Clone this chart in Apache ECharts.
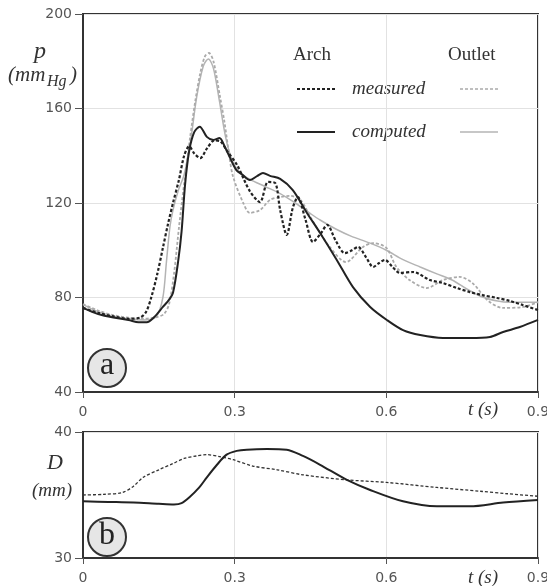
<!DOCTYPE html>
<html>
<head>
<meta charset="utf-8">
<script src="https://cdn.jsdelivr.net/npm/echarts@6/dist/echarts.min.js"></script>
<style>
  html, body { margin: 0; padding: 0; background: #fff; }
  #chart { width: 547px; height: 586px; }
</style>
</head>
<body>
<div id="chart"></div>
<script>
// ---- pressure (panel a), t in s, p in mmHg ----
var archMeasT = [0, 0.03, 0.06, 0.09, 0.113, 0.125, 0.135, 0.147, 0.158, 0.168, 0.178, 0.19, 0.2, 0.21, 0.22, 0.232, 0.245, 0.26, 0.272, 0.285, 0.305, 0.33, 0.35, 0.366, 0.38, 0.39, 0.403, 0.415, 0.425, 0.44, 0.455, 0.47, 0.483, 0.5, 0.518, 0.532, 0.544, 0.56, 0.574, 0.585, 0.597, 0.612, 0.627, 0.653, 0.686, 0.712, 0.74, 0.765, 0.79, 0.819, 0.845, 0.87, 0.9];
var archMeasP = [75.6, 73.5, 72, 71, 71.5, 74, 80, 90, 101, 111, 120, 130, 140, 144, 141, 139, 143, 146.5, 146, 142, 136, 125, 120.4, 128.9, 128.5, 117, 106.5, 118, 122.5, 113, 103.5, 107, 110.7, 104, 98.8, 100, 101.4, 97, 92.9, 94.5, 95.9, 93, 90.4, 90.8, 87.4, 86.1, 84, 82.3, 81, 79.8, 78.5, 76.8, 74.7];

var archCompT = [0, 0.03, 0.06, 0.09, 0.11, 0.126, 0.14, 0.158, 0.17, 0.178, 0.188, 0.195, 0.202, 0.21, 0.22, 0.231, 0.245, 0.258, 0.27, 0.28, 0.29, 0.303, 0.315, 0.33, 0.345, 0.356, 0.37, 0.39, 0.415, 0.443, 0.469, 0.502, 0.534, 0.568, 0.601, 0.633, 0.667, 0.712, 0.765, 0.805, 0.831, 0.864, 0.9];
var archCompP = [75.6, 73, 71.5, 70.5, 69.5, 69.5, 71.5, 76, 79, 82, 95, 108, 128, 142, 150, 152.3, 148, 146.7, 147.5, 144, 139.5, 134, 132, 129.7, 131.5, 132.7, 131.5, 130.2, 125.5, 115.8, 107.3, 95.9, 84.4, 76, 70.5, 66.2, 64.1, 62.9, 62.9, 63.3, 65.4, 67.5, 70.5];

var outMeasT = [0, 0.03, 0.06, 0.09, 0.12, 0.146, 0.16, 0.17, 0.18, 0.19, 0.2, 0.212, 0.222, 0.232, 0.241, 0.249, 0.258, 0.271, 0.28, 0.29, 0.297, 0.317, 0.33, 0.35, 0.37, 0.39, 0.41, 0.43, 0.45, 0.469, 0.488, 0.52, 0.554, 0.574, 0.6, 0.62, 0.646, 0.68, 0.712, 0.745, 0.771, 0.8, 0.83, 0.87, 0.9];
var outMeasP = [77.2, 74.5, 72.5, 71.5, 71, 71.7, 73, 77, 90, 110, 128, 148, 163, 175, 182, 183.5, 180, 165, 154, 139, 131, 120, 115.8, 117, 121.3, 122.5, 123, 121.3, 114, 107.3, 101.4, 95, 101.4, 103, 101, 92.9, 87.4, 84, 87.4, 88.7, 86, 78.9, 75.6, 76, 78];

var outCompT = [0, 0.03, 0.06, 0.09, 0.12, 0.145, 0.158, 0.165, 0.172, 0.178, 0.188, 0.2, 0.212, 0.225, 0.238, 0.248, 0.258, 0.27, 0.282, 0.295, 0.31, 0.33, 0.36, 0.39, 0.42, 0.45, 0.469, 0.5, 0.53, 0.568, 0.6, 0.633, 0.667, 0.7, 0.73, 0.76, 0.79, 0.82, 0.845, 0.9];
var outCompP = [77, 74, 72, 71, 70.5, 72, 80, 95, 110, 117, 125, 132, 145, 165, 178, 181, 177, 163, 148, 138, 133, 130, 127, 124, 120, 115.5, 112.8, 109, 106, 103, 100, 96, 92.9, 90, 87.4, 83.5, 80.2, 78.5, 78, 78];

// ---- diameter (panel b), D in mm ----
var dMeasT = [0, 0.04, 0.078, 0.1, 0.119, 0.15, 0.178, 0.2, 0.225, 0.245, 0.27, 0.297, 0.336, 0.384, 0.435, 0.522, 0.6, 0.7, 0.785, 0.84, 0.9];
var dMeasV = [35, 35.05, 35.2, 35.7, 36.4, 37, 37.5, 37.9, 38.1, 38.2, 38.05, 37.8, 37.3, 37.0, 36.6, 36.2, 36.0, 35.6, 35.3, 35.1, 34.9];

var dCompT = [0, 0.05, 0.1, 0.15, 0.18, 0.195, 0.21, 0.23, 0.245, 0.265, 0.284, 0.304, 0.324, 0.364, 0.403, 0.435, 0.469, 0.522, 0.568, 0.633, 0.7, 0.765, 0.831, 0.9];
var dCompV = [34.5, 34.45, 34.4, 34.3, 34.25, 34.35, 34.8, 35.6, 36.4, 37.4, 38.2, 38.5, 38.6, 38.65, 38.6, 38.1, 37.4, 36.2, 35.4, 34.5, 34.1, 34.1, 34.4, 34.6];

var dLabelTicks = [30, 40];

function zip(a, b) {
  var out = [];
  for (var i = 0; i < a.length; i++) out.push([a[i], b[i]]);
  return out;
}

var chart = echarts.init(document.getElementById('chart'));

var dark = '#222';
var light = '#aaa';
var tickFont = { fontFamily: 'DejaVu Sans', fontSize: 14, color: '#555' };
var serif = 'Liberation Serif';

function xAxisCfg(idx) {
  return {
    type: 'value', gridIndex: idx, min: 0, max: 0.9, interval: 0.3,
    axisLine: { show: true, lineStyle: { color: '#333', width: 2 } },
    axisTick: { show: true, length: 6, lineStyle: { color: '#555' } },
    axisLabel: Object.assign({ margin: 13, formatter: function (v) { return v === 0 ? '0' : v.toFixed(1); } }, tickFont),
    splitLine: { show: true, lineStyle: { color: '#e2e2e2', width: 1 } }
  };
}

var option = {
  animation: false,
  backgroundColor: '#fff',
  grid: [
    { left: 83, top: 14, width: 455, height: 378, show: true, borderColor: '#333', borderWidth: 2, containLabel: false, outerBoundsMode: 'none' },
    { left: 83, top: 432, width: 455, height: 126, show: true, borderColor: '#333', borderWidth: 2, containLabel: false, outerBoundsMode: 'none' }
  ],
  xAxis: [xAxisCfg(0), xAxisCfg(1)],
  yAxis: [
    {
      type: 'value', gridIndex: 0, min: 40, max: 200, interval: 40,
      axisLine: { show: true, lineStyle: { color: '#333', width: 2 } },
      axisTick: { show: true, length: 8, lineStyle: { color: '#555' } },
      axisLabel: Object.assign({ margin: 11 }, tickFont),
      splitLine: { show: true, lineStyle: { color: '#e2e2e2', width: 1 } }
    },
    {
      type: 'value', gridIndex: 1, min: 30, max: 40, interval: 5,
      axisLine: { show: true, lineStyle: { color: '#333', width: 2 } },
      axisTick: { show: true, length: 8, customValues: dLabelTicks, lineStyle: { color: '#555' } },
      axisLabel: Object.assign({ margin: 11, customValues: dLabelTicks }, tickFont),
      splitLine: { show: true, lineStyle: { color: '#e2e2e2', width: 1 } }
    }
  ],
  series: [
    { name: 'Outlet computed', type: 'line', xAxisIndex: 0, yAxisIndex: 0, data: zip(outCompT, outCompP),
      smooth: 0.3, showSymbol: false, lineStyle: { color: '#b4b4b4', width: 1.5 } },
    { name: 'Outlet measured', type: 'line', xAxisIndex: 0, yAxisIndex: 0, data: zip(outMeasT, outMeasP),
      smooth: 0.3, showSymbol: false, lineStyle: { color: light, width: 1.8, type: [3, 2] } },
    { name: 'Arch measured', type: 'line', xAxisIndex: 0, yAxisIndex: 0, data: zip(archMeasT, archMeasP),
      smooth: 0.3, showSymbol: false, lineStyle: { color: dark, width: 2.2, type: [3, 2] } },
    { name: 'Arch computed', type: 'line', xAxisIndex: 0, yAxisIndex: 0, data: zip(archCompT, archCompP),
      smooth: 0.3, showSymbol: false, lineStyle: { color: dark, width: 2 } },
    { name: 'D measured', type: 'line', xAxisIndex: 1, yAxisIndex: 1, data: zip(dMeasT, dMeasV),
      smooth: 0.3, showSymbol: false, lineStyle: { color: '#333', width: 1.3, type: [3, 2] } },
    { name: 'D computed', type: 'line', xAxisIndex: 1, yAxisIndex: 1, data: zip(dCompT, dCompV),
      smooth: 0.3, showSymbol: false, lineStyle: { color: dark, width: 2 } }
  ],
  graphic: [
    // y axis titles
    { type: 'text', left: 34, top: 40, style: { text: 'p', font: 'italic 24px ' + serif, fill: '#333' } },
    { type: 'text', left: 8, top: 65, style: { text: '(mm', font: 'italic 21px ' + serif, fill: '#333' } },
    { type: 'text', left: 47, top: 74, style: { text: 'Hg', font: 'italic 16px ' + serif, fill: '#333' } },
    { type: 'text', left: 70, top: 65, style: { text: ')', font: 'italic 21px ' + serif, fill: '#333' } },
    { type: 'text', left: 47, top: 452, style: { text: 'D', font: 'italic 22px ' + serif, fill: '#333' } },
    { type: 'text', left: 32, top: 481, style: { text: '(mm)', font: 'italic 19px ' + serif, fill: '#333' } },
    // x axis titles
    { type: 'text', left: 468, top: 400, style: { text: 't (s)', font: 'italic 19px ' + serif, fill: '#333' } },
    { type: 'text', left: 468, top: 568, style: { text: 't (s)', font: 'italic 19px ' + serif, fill: '#333' } },
    // legend
    { type: 'text', left: 293, top: 46, style: { text: 'Arch', font: '19px ' + serif, fill: '#333' } },
    { type: 'text', left: 448, top: 46, style: { text: 'Outlet', font: '19px ' + serif, fill: '#333' } },
    { type: 'text', left: 352, top: 79, style: { text: 'measured', font: 'italic 19px ' + serif, fill: '#333' } },
    { type: 'text', left: 352, top: 122, style: { text: 'computed', font: 'italic 19px ' + serif, fill: '#333' } },
    { type: 'line', shape: { x1: 297, y1: 89, x2: 335, y2: 89 }, style: { stroke: dark, lineWidth: 2, lineDash: [3, 2] } },
    { type: 'line', shape: { x1: 460, y1: 89, x2: 498, y2: 89 }, style: { stroke: light, lineWidth: 1.5, lineDash: [3, 2] } },
    { type: 'line', shape: { x1: 297, y1: 132, x2: 335, y2: 132 }, style: { stroke: dark, lineWidth: 2 } },
    { type: 'line', shape: { x1: 460, y1: 132, x2: 498, y2: 132 }, style: { stroke: '#b4b4b4', lineWidth: 1.5 } },
    // panel markers
    { type: 'circle', shape: { cx: 107, cy: 368, r: 19 }, style: { fill: '#e6e6e6', stroke: '#333', lineWidth: 2 } },
    { type: 'text', x: 107, y: 366, style: { text: 'a', font: '32px ' + serif, fill: '#222', align: 'center', verticalAlign: 'middle' } },
    { type: 'circle', shape: { cx: 107, cy: 537, r: 19 }, style: { fill: '#e6e6e6', stroke: '#333', lineWidth: 2 } },
    { type: 'text', x: 107, y: 536, style: { text: 'b', font: '32px ' + serif, fill: '#222', align: 'center', verticalAlign: 'middle' } }
  ]
};

chart.setOption(option);
</script>
</body>
</html>
